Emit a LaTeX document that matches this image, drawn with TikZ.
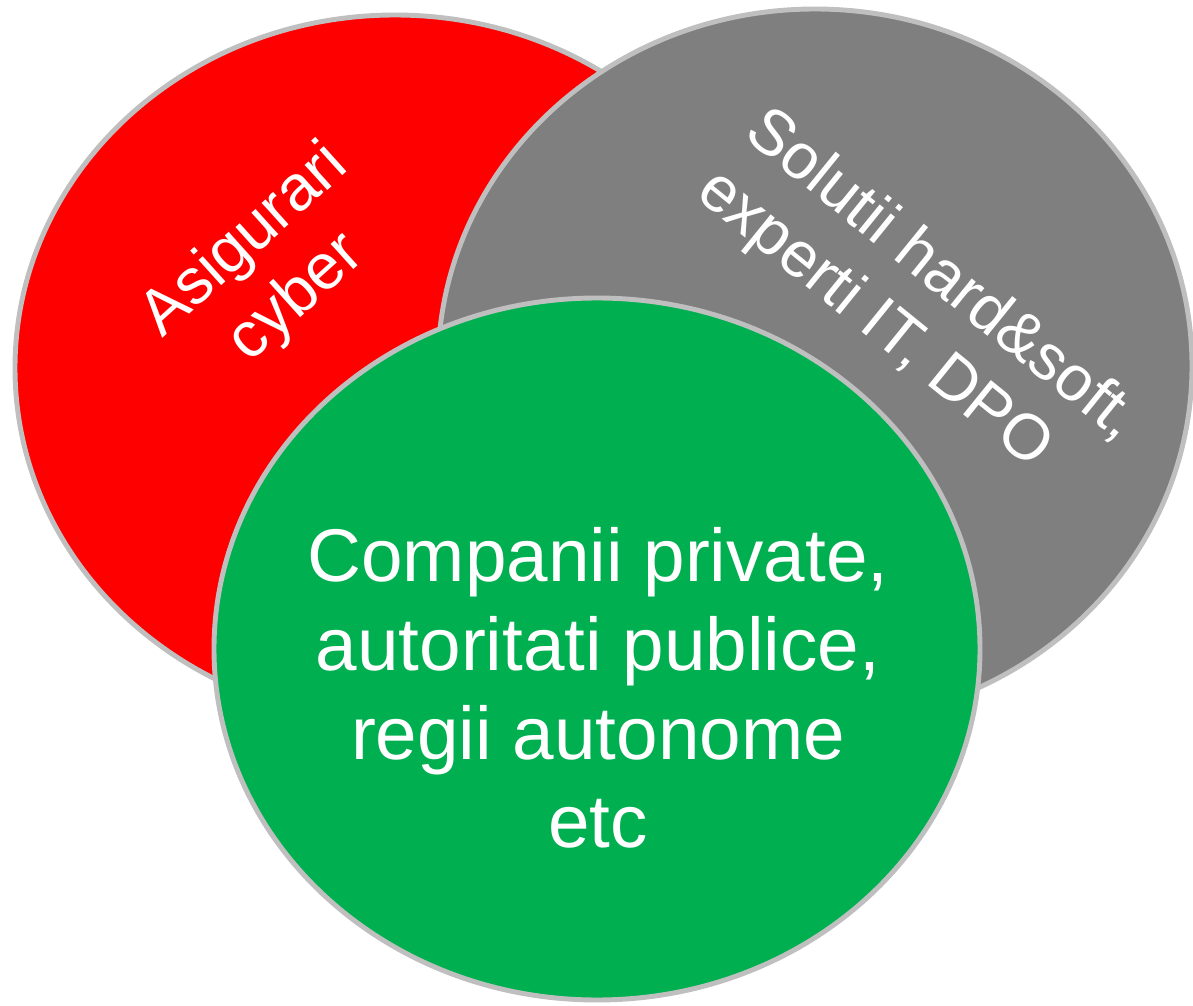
\documentclass[tikz,border=0pt]{standalone}
\usepackage{fontspec}
\setmainfont{Liberation Sans}
\usepackage{tikz}
\usetikzlibrary{calc}

\definecolor{setred}{HTML}{FF0000}
\definecolor{setgray}{HTML}{7F7F7F}
\definecolor{setgreen}{HTML}{00B050}
\definecolor{setrim}{HTML}{BFBFBF}

\begin{document}
\begin{tikzpicture}[x=0.02cm,y=-0.02cm,
  setrim/.style={draw=setrim,line width=2.8pt},
  setlabel/.style={text=white,inner sep=0pt,font=\fontsize{36.5}{43.5}\selectfont},
  biglabel/.style={text=white,align=center,inner sep=0pt,font=\fontsize{42.5}{50.5}\selectfont}]
\useasboundingbox (0,0) rectangle (1193,1006);

% Insurance set
\filldraw[setrim,fill=setred] (395,368) ellipse [x radius=380, y radius=353];
% IT set
\filldraw[setrim,fill=setgray] (815,366) ellipse [x radius=377, y radius=357];
% Clients set
\filldraw[setrim,fill=setgreen] (597,649) ellipse [x radius=383, y radius=351];

% Labels
\node[setlabel,align=center,rotate=42] (asig) at (271,270) {Asigurari\\cyber};
\node[setlabel,align=left,rotate=-39] (solutii) at (917,306) {Solutii hard\&soft,\\experti IT, DPO};
\node[biglabel] (companii) at (598,688) {Companii private,\\autoritati publice,\\regii autonome\\etc};
\end{tikzpicture}
\end{document}
